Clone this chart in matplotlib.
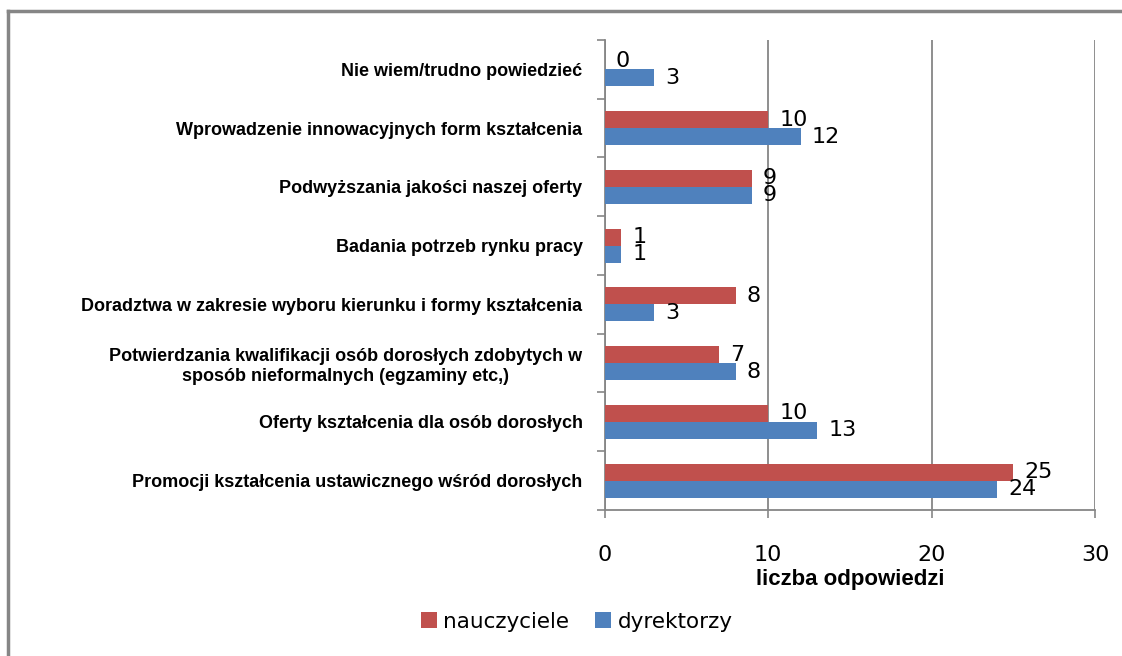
import matplotlib.pyplot as plt
from matplotlib.lines import Line2D
import numpy as np

# data (bottom -> top)
categories = [
    "Promocji kształcenia ustawicznego wśród dorosłych",
    "Oferty kształcenia dla osób dorosłych",
    "Potwierdzania kwalifikacji osób dorosłych zdobytych w\nsposób nieformalnych (egzaminy etc,)",
    "Doradztwa w zakresie wyboru kierunku i formy kształcenia",
    "Badania potrzeb rynku pracy",
    "Podwyższania jakości naszej oferty",
    "Wprowadzenie innowacyjnych form kształcenia",
    "Nie wiem/trudno powiedzieć",
]
nauczyciele = [25, 10, 7, 8, 1, 9, 10, 0]
dyrektorzy = [24, 13, 8, 3, 1, 9, 12, 3]
x_ticks = [0, 10, 20, 30]

red = "#C0504D"
blue = "#4F81BD"
gray = "#868686"
font = ["Liberation Sans Narrow", "Liberation Sans", "DejaVu Sans"]
plt.rcParams["font.family"] = font

fig = plt.figure(figsize=(11.22, 6.56), dpi=100)
ax = fig.add_axes([0.539, 0.2226, 0.437, 0.7165])

y = np.arange(len(categories))
h = 0.29
bars_n = ax.barh(y + h / 2, nauczyciele, height=h, color=red, label="nauczyciele", zorder=3)
bars_d = ax.barh(y - h / 2, dyrektorzy, height=h, color=blue, label="dyrektorzy", zorder=3)

for bars, vals in [(bars_n, nauczyciele), (bars_d, dyrektorzy)]:
    for b, v in zip(bars, vals):
        ax.annotate(str(v), (b.get_width(), b.get_y() + b.get_height() / 2),
                    xytext=(8, 0), textcoords="offset points",
                    ha="left", va="center", fontsize=16, family="DejaVu Sans",
                    color="black", zorder=4)

ax.set_xlim(0, 30)
ax.set_ylim(-0.5, len(categories) - 0.5)
ax.set_xticks(x_ticks)
ax.set_xticklabels([str(t) for t in x_ticks], fontsize=16, family="DejaVu Sans")
ax.tick_params(axis="x", direction="out", length=6, width=1.2, color=gray, pad=19)

ax.set_yticks(np.arange(-0.5, len(categories)), labels=[])
ax.set_yticks(y, minor=True)
ax.set_yticklabels(categories, minor=True, fontsize=13, fontweight="bold", multialignment="center")
ax.tick_params(axis="y", which="major", direction="out", length=6, width=1.2, color=gray)
ax.tick_params(axis="y", which="minor", length=0, pad=16)

ax.grid(axis="x", color=gray, linewidth=1.3, zorder=0)
for s in ["top", "right"]:
    ax.spines[s].set_visible(False)
for s in ["left", "bottom"]:
    ax.spines[s].set_color(gray)
    ax.spines[s].set_linewidth(1.3)

ax.set_xlabel("liczba odpowiedzi", fontsize=16, fontweight="bold", labelpad=3)

fig.legend(handles=[bars_n, bars_d], loc="center", bbox_to_anchor=(0.514, 0.052),
           ncol=2, frameon=False, handlelength=0.75, handleheight=0.75,
           columnspacing=1.2, handletextpad=0.3, prop={"family": "DejaVu Sans", "size": 15.5})

# outer frame (top and left only)
fig.add_artist(Line2D([0.007, 1.0], [0.983, 0.983], color=gray, linewidth=2.5))
fig.add_artist(Line2D([0.007, 0.007], [0.0, 0.983], color=gray, linewidth=2.5))

fig.savefig("out.png", dpi=100)
